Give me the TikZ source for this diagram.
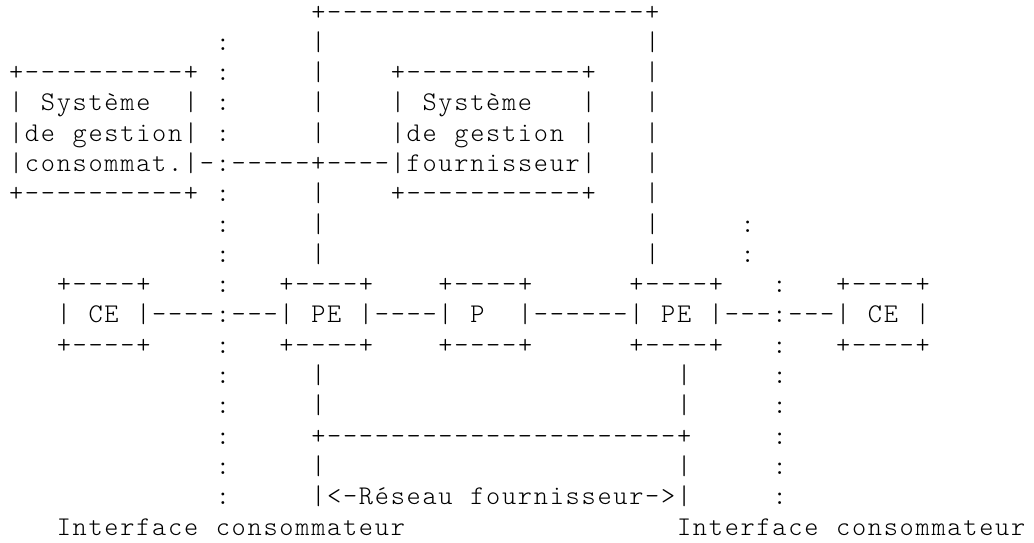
\documentclass[tikz,border=0pt]{standalone}
\usepackage{fontspec}
\setmonofont{lmmonolt10-regular.otf}
\usetikzlibrary{positioning}
% character grid: every glyph sits in a cell of the same width
\newdimen\cellwd \cellwd=15.905pt
\newcommand\blank[1]{\hspace*{#1\cellwd}}
\newcommand\grid[1]{\gridaux#1\relax}
\def\gridaux#1{\ifx\relax#1\else\hbox to\cellwd{\hss#1\hss}\expandafter\gridaux\fi}

\begin{document}
\begin{tikzpicture}[
  x=1pt, y=-1pt,
  row/.style={anchor=base west, inner sep=0pt, text depth=0pt, font=\ttfamily\fontsize{27}{30}\selectfont}
]
  \useasboundingbox (0,0) rectangle (1034,542);

  % top frame and management systems
  \node[row] (r0) at (8,20.0) {\blank{19}\grid{+--------------------+}};
  \node[row] (r1) at (8,50.3) {\blank{13}\grid{:}\blank{5}\grid{|}\blank{20}\grid{|}};
  \node[row] (r2) at (8,80.6) {\grid{+----------+}\blank{1}\grid{:}\blank{5}\grid{|}\blank{4}\grid{+-----------+}\blank{3}\grid{|}};
  \node[row] (r3) at (8,110.9) {\grid{|}\blank{1}\grid{Système}\blank{2}\grid{|}\blank{1}\grid{:}\blank{5}\grid{|}\blank{4}\grid{|}\blank{1}\grid{Système}\blank{3}\grid{|}\blank{3}\grid{|}};
  \node[row] (r4) at (8,141.2) {\grid{|de}\blank{1}\grid{gestion|}\blank{1}\grid{:}\blank{5}\grid{|}\blank{4}\grid{|de}\blank{1}\grid{gestion}\blank{1}\grid{|}\blank{3}\grid{|}};
  \node[row] (r5) at (8,171.5) {\grid{|consommat.|-:-----+----|fournisseur|}\blank{3}\grid{|}};
  \node[row] (r6) at (8,201.8) {\grid{+----------+}\blank{1}\grid{:}\blank{5}\grid{|}\blank{4}\grid{+-----------+}\blank{3}\grid{|}};
  \node[row] (r7) at (8,232.1) {\blank{13}\grid{:}\blank{5}\grid{|}\blank{20}\grid{|}\blank{5}\grid{:}};
  \node[row] (r8) at (8,262.4) {\blank{13}\grid{:}\blank{5}\grid{|}\blank{20}\grid{|}\blank{5}\grid{:}};

  % CE -- PE -- P -- PE -- CE
  \node[row] (r9) at (8,292.6) {\blank{3}\grid{+----+}\blank{4}\grid{:}\blank{3}\grid{+----+}\blank{4}\grid{+----+}\blank{6}\grid{+----+}\blank{3}\grid{:}\blank{3}\grid{+----+}};
  \node[row] (r10) at (8,322.9) {\blank{3}\grid{|}\blank{1}\grid{CE}\blank{1}\grid{|----:---|}\blank{1}\grid{PE}\blank{1}\grid{|----|}\blank{1}\grid{P}\blank{2}\grid{|------|}\blank{1}\grid{PE}\blank{1}\grid{|---:---|}\blank{1}\grid{CE}\blank{1}\grid{|}};
  \node[row] (r11) at (8,353.2) {\blank{3}\grid{+----+}\blank{4}\grid{:}\blank{3}\grid{+----+}\blank{4}\grid{+----+}\blank{6}\grid{+----+}\blank{3}\grid{:}\blank{3}\grid{+----+}};

  % provider network
  \node[row] (r12) at (8,383.5) {\blank{13}\grid{:}\blank{5}\grid{|}\blank{22}\grid{|}\blank{5}\grid{:}};
  \node[row] (r13) at (8,413.8) {\blank{13}\grid{:}\blank{5}\grid{|}\blank{22}\grid{|}\blank{5}\grid{:}};
  \node[row] (r14) at (8,444.1) {\blank{13}\grid{:}\blank{5}\grid{+----------------------+}\blank{5}\grid{:}};
  \node[row] (r15) at (8,474.4) {\blank{13}\grid{:}\blank{5}\grid{|}\blank{22}\grid{|}\blank{5}\grid{:}};
  \node[row] (r16) at (8,504.7) {\blank{13}\grid{:}\blank{5}\grid{|<-Réseau}\blank{1}\grid{fournisseur->|}\blank{5}\grid{:}};
  \node[row] (r17) at (8,535.0) {\blank{3}\grid{Interface}\blank{1}\grid{consommateur}\blank{17}\grid{Interface}\blank{1}\grid{consommateur}};

\end{tikzpicture}
\end{document}
